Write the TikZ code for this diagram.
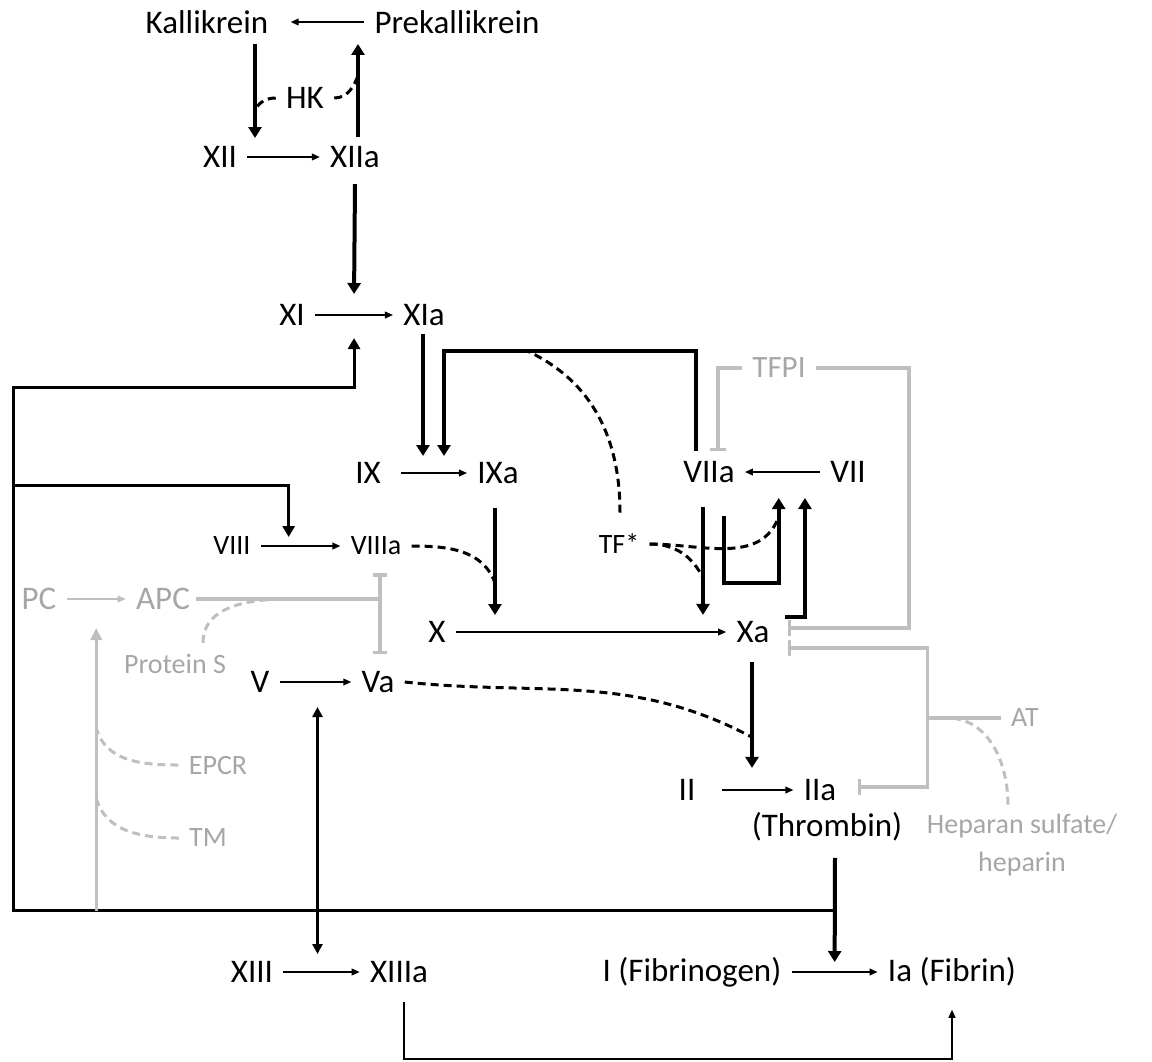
\documentclass[tikz,border=0pt]{standalone}
\usepackage{fontspec}
\setmainfont{Carlito}
\usepackage{tikz}
\usetikzlibrary{arrows.meta,calc}
\definecolor{inhgray}{HTML}{BFBFBF}
\definecolor{txtgray}{HTML}{A6A6A6}

\begin{document}
\begin{tikzpicture}[
    x=0.5pt, y=0.5pt,
    every node/.style={inner xsep=5pt, inner ysep=3pt, font=\fontsize{16.5}{19}\selectfont},
    sm/.style={font=\fontsize{14}{17}\selectfont},
    gr/.style={text=txtgray},
    conv/.style={line width=0.7pt, -{Triangle[length=4pt,width=3.4pt]}},
    act/.style={line width=2pt, -{Triangle[length=5.5pt,width=6.5pt]}},
    fb/.style={line width=1.5pt},
    fbtip/.style={-{Triangle[length=5.5pt,width=6pt]}},
    cof/.style={line width=1.5pt, dash pattern=on 4pt off 2.5pt},
    inh/.style={draw=inhgray, line width=1.7pt},
    inhdash/.style={draw=inhgray, line width=1.5pt, dash pattern=on 4pt off 2.5pt},
    tee/.style={-{Bar[width=8pt,line width=1.7pt]}}
]
\useasboundingbox (0,0) rectangle (1152,-1061);

\node (kal) at (207,-22) {Kallikrein};
\node (prekal) at (457,-22) {Prekallikrein};
\node (hk) at (305,-98) {HK};
\node (f12) at (220,-157) {XII};
\node (f12a) at (355,-157) {XIIa};
\node (f11) at (292,-315) {XI};
\node (f11a) at (424,-315) {XIa};
\node (f9) at (368,-473) {IX};
\node (f9a) at (498,-473) {IXa};
\node (f7a) at (709,-472) {VIIa};
\node (f7) at (848,-472) {VII};
\node[sm] (f8) at (232,-546) {VIII};
\node[sm] (f8a) at (376,-546) {VIIIa};
\node[sm] (tf) at (619,-544) {TF*};
\node (f10) at (437,-632) {X};
\node (f10a) at (753,-632) {Xa};
\node (f5) at (260,-682) {V};
\node (f5a) at (378,-682) {Va};
\node (f2) at (687,-790) {II};
\node (f2a) at (820,-790) {IIa};
\node (thr) at (827,-827) {(Thrombin)};
\node (f13) at (252,-972) {XIII};
\node (f13a) at (399,-972) {XIIIa};
\node (fbg) at (692,-972) {I (Fibrinogen)};
\node (fbn) at (952,-972) {Ia (Fibrin)};

\node[gr] (pc) at (39,-599) {PC};
\node[gr] (apc) at (163,-599) {APC};
\node[gr,sm] (ps) at (175,-664) {Protein S};
\node[gr,sm] (epcr) at (218,-765) {EPCR};
\node[gr,sm] (tm) at (208,-838) {TM};
\node[gr,font=\fontsize{15.5}{18}\selectfont] (tfpi) at (779,-368) {TFPI};
\node[gr,sm] (at) at (1025,-718) {AT};
\node[gr,align=center,font=\fontsize{14}{17}\selectfont] (hep) at (1022,-845) {Heparan sulfate/\\[2pt]heparin};

\draw[conv,shorten >=6pt] (prekal) -- (kal);
\draw[conv] (f12) -- (f12a);
\draw[act] ($(kal.south)+(48,-4)$) -- coordinate[pos=0.7] (hkL) ($(f12.north)+(35,2)$);
\draw[act] ($(f12a.north)+(3,3)$) -- coordinate[pos=0.66] (hkR) ($(prekal.south)+(-99,-4)$);
\draw[cof] (hk.west) to[out=180,in=60] (hkL);
\draw[cof] (hk.east) to[out=0,in=-110] (hkR);

\draw[conv] (f11) -- coordinate[midway] (m11) (f11a);
\draw[act] ($(f12a.south)+(0,-10)$) -- ($(m11)+(0,21)$);
\draw[act] ($(f11a.south)+(-1,-2)$) -- ($(f9.north)+(55,0)$);
\draw[act] ($(f7a.north)+(-13,4)$) -- ++(0,100) -| coordinate[pos=0.335] (tfB) ($(f9.north)+(76,0)$);
\draw[cof] ($(tf.north)+(1,15)$) to[out=90,in=-25] (tfB);

\draw[conv,shorten <=5pt] (f9) -- (f9a);
\draw[act] ($(f9a.south)+(-3,-18)$) -- coordinate[pos=0.7] (p9) ($(f10.north)+(58,0)$);
\draw[conv] (f8) -- coordinate[midway] (m8) (f8a);
\draw[cof] (f8a.east) to[out=0,in=110] (p9);
\draw[conv] (f10) -- (f10a);

\draw[conv] (f7) -- coordinate[pos=0.2] (m7b) coordinate[pos=0.55] (m7a) (f7a);
\draw[act] ($(f7a.south)+(-6,-18)$) -- coordinate[pos=0.66] (p10) ($(f10a.north)+(-50,0)$);
\draw[act] ($(f7a.south)+(15,-27)$) -- ++(0,-67) -| coordinate[pos=0.89] (boxP) ($(m7a)+(0,-26)$);
\draw[act] ($(f10a.north east)+(5,-2)$) -| ($(m7b)+(0,-26)$);
\draw[cof] (tf.east) to[out=0,in=-110] (boxP);
\draw[cof] (tf.east) to[out=0,in=115] (p10);

\draw[inh,tee] (tfpi.west) -| ($(f7a.north)+(9,4)$);
\draw[inh,tee] (tfpi.east) -- ++(93,0) |- ($(f10a.east)+(8,4)$);

\draw[inh] (at.west) -- coordinate[pos=0.73] (atH) ++(-73,0) coordinate (atj);
\draw[inh,tee] (atj) |- ($(f10a.east)+(8,-16)$);
\draw[inh,tee] (atj) |- ($(f2a.east)+(11,3)$);
\draw[inhdash] ($(hep.north)+(-14,3)$) to[out=90,in=0] (atH);

\draw[act] ($(f10a.south)+(-1,-13)$) -- coordinate[pos=0.71] (p2) ($(f2a.north)+(-68,5)$);
\draw[cof] (f5a.east) to[out=-6,in=152] (p2);
\draw[conv,shorten <=8pt] (f2) -- (f2a);
\draw[conv] (f5) -- coordinate[midway] (m5) (f5a);
\draw[conv] (f13) -- coordinate[midway] (m13) (f13a);
\draw[conv] (fbg) -- coordinate[midway] (mfb) (fbn);

\draw[act] ($(thr.south)+(8,-10)$) -- coordinate[pos=0.51] (fbJ) ($(mfb)+(0,10)$);
\coordinate (lft) at (13,-387);
\coordinate (lft8) at (13,-485);
\draw[fb,fbtip] (fbJ) -| (lft) -| ($(m11)+(0,-23)$);
\draw[fb,fbtip] (lft8) -| ($(m8)+(-12,9)$);
\draw[line width=1.3pt, {Triangle[length=5pt,width=5pt]}-{Triangle[length=5pt,width=5pt]}]
    ($(m5)+(2,-25)$) -- ($(m5 |- m13)+(2,18)$);
\draw[conv] ($(f13a.south)+(5,-13)$) -- ++(0,-57) -| ($(fbn.south)+(0,-17)$);

\draw[conv,inhgray] (pc) -- coordinate[midway] (mpc) (apc);
\draw[inh,-{Triangle[length=6pt,width=5.5pt]}] (mpc |- fbJ) -- coordinate[pos=0.40] (pT) coordinate[pos=0.647] (pE) ($(mpc)+(0,-29)$);
\draw[inhdash] (epcr.west) to[out=180,in=-75] (pE);
\draw[inhdash] (tm.west) to[out=180,in=-75] (pT);
\draw[inh,{Bar[width=7pt,line width=1.7pt]}-{Bar[width=7pt,line width=1.7pt]}]
    ($(f8a.south)+(4,-12)$) -- ($(f5a.north)+(2,11)$);
\draw[inh] ($(apc.east)+(-4,0)$) -- coordinate[midway] (psE) ($(apc.east -| f8a)+(4,0)$);
\draw[inhdash] ($(ps.north)+(28,5)$) to[out=90,in=180] (psE);
\end{tikzpicture}
\end{document}
